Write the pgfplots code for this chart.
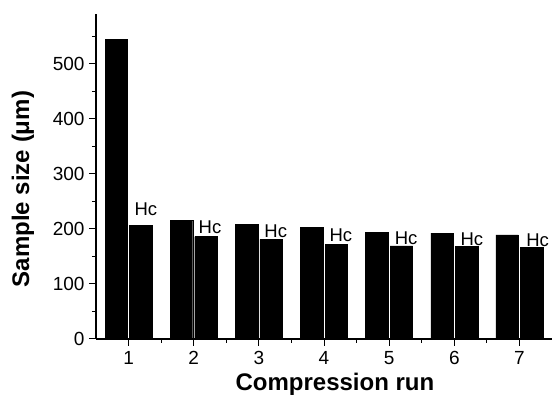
\documentclass[border=0pt]{standalone}
\usepackage{fontspec}
\setmainfont{Liberation Sans}
\usepackage{pgfplots}
\pgfplotsset{compat=1.18}
\usetikzlibrary{calc}
\newcommand\tickfont{\fontsize{19bp}{22bp}\selectfont}
\begin{document}
\begin{tikzpicture}
\begin{axis}[
  name=ax,
  scale only axis, width=456bp, height=325bp,
  xmin=0.5, xmax=7.5, ymin=0, ymax=590,
  axis lines=left, axis line style={-, line width=1.2bp},
  ybar=2bp, bar width=22.5bp,
  xtick={1,...,7}, minor xtick={1.5,2.5,...,7.5},
  ytick={0,100,...,500}, minor ytick={50,150,...,550},
  tick align=outside, major tick length=7bp, minor tick length=4bp,
  every tick/.style={black, line width=1bp},
  /pgf/number format/assume math mode=true,
  xticklabel={\hbox{\tickfont\pgfmathprintnumber{\tick}}},
  yticklabel={\hbox{\tickfont\pgfmathprintnumber{\tick}}},
  xticklabel style={yshift=-1.5bp},
  yticklabel style={xshift=-1bp},
  xlabel={Compression run}, ylabel={Sample size (μm)},
  label style={font=\bfseries\fontsize{24bp}{27bp}\selectfont},
  xlabel style={at={(rel axis cs:0.524,0)}, anchor=base, yshift=-52bp},
  ylabel style={at={($(rel axis cs:0,0.4615)+(-73bp,0)$)}, anchor=center},
  clip=false,
]
\addplot[fill=black, draw=black, line width=0.4bp] coordinates {(1,544) (2,216) (3,208) (4,203) (5,194) (6,192) (7,189)};
\addplot[fill=black, draw=black, line width=0.4bp] coordinates {(1,206) (2,186) (3,181) (4,172) (5,169) (6,168) (7,167)};
\foreach \x/\y in {1.265/225, 2.25/192, 3.26/185, 4.26/176.6, 5.26/172, 6.27/169, 7.28/167.5} {
  \edef\temp{\noexpand\node[anchor=base, inner sep=0pt, font=\noexpand\fontsize{18.5bp}{21bp}\noexpand\selectfont] at (axis cs:\x,\y) {Hc};}
  \temp
}
\end{axis}
\pgfresetboundingbox
\path ($(ax.south west)+(-96bp,-58bp)$) rectangle ($(ax.north east)+(0,14bp)$);
\end{tikzpicture}
\end{document}
